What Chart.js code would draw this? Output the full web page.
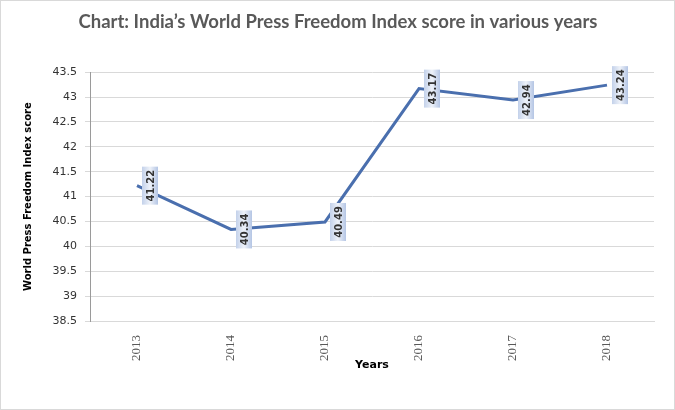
<!DOCTYPE html>
<html>
<head>
<meta charset="utf-8">
<script src="https://cdn.jsdelivr.net/npm/chart.js@4/dist/chart.umd.min.js"></script>
<style>
  html, body { margin: 0; padding: 0; background: #fff; }
</style>
</head>
<body>
<canvas id="chart" width="675" height="410"></canvas>
<script>
const years = ['2013', '2014', '2015', '2016', '2017', '2018'];
const scores = [41.22, 40.34, 40.49, 43.17, 42.94, 43.24];
const scoreLabels = ['41.22', '40.34', '40.49', '43.17', '42.94', '43.24'];

// white background + thin grey frame around the whole picture
const frame = {
    id: 'frame',
    beforeDraw(chart) {
        const ctx = chart.ctx;
        ctx.save();
        ctx.fillStyle = '#fff';
        ctx.fillRect(0, 0, chart.width, chart.height);
        ctx.strokeStyle = '#d9d9d9';
        ctx.lineWidth = 1;
        ctx.strokeRect(0.5, 0.5, chart.width - 1, chart.height - 1);
        ctx.restore();
    }
};

// rotated value labels in small blue boxes next to each point
const valueBoxes = {
    id: 'valueBoxes',
    afterDatasetsDraw(chart) {
        const ctx = chart.ctx;
        const meta = chart.getDatasetMeta(0);
        meta.data.forEach((pt, i) => {
            const cx = pt.x + 13, cy = pt.y;
            const w = 16, h = 38;
            const g = ctx.createLinearGradient(cx - w / 2, 0, cx + w / 2, 0);
            g.addColorStop(0, '#c3d1ea');
            g.addColorStop(0.5, '#eef2f9');
            g.addColorStop(1, '#b4c5e4');
            ctx.save();
            ctx.fillStyle = g;
            ctx.fillRect(cx - w / 2, cy - h / 2, w, h);
            ctx.translate(cx, cy);
            ctx.rotate(-Math.PI / 2);
            ctx.fillStyle = '#333';
            ctx.font = 'bold 10px "DejaVu Sans"';
            ctx.textAlign = 'center';
            ctx.textBaseline = 'middle';
            ctx.fillText(scoreLabels[i], 0, 1);
            ctx.restore();
        });
    }
};

new Chart(document.getElementById('chart'), {
    type: 'line',
    data: {
        labels: years,
        datasets: [{
            label: 'Score',
            data: scores,
            borderColor: '#4a6fae',
            borderWidth: 3,
            pointRadius: 0,
            tension: 0
        }]
    },
    options: {
        responsive: false,
        animation: false,
        layout: {
            padding: { left: 22, right: 21, top: 0, bottom: 34 }
        },
        plugins: {
            legend: { display: false },
            tooltip: { enabled: false },
            title: {
                display: true,
                text: 'Chart: India\u2019s World Press Freedom Index score in various years',
                color: '#595959',
                font: { family: 'Lato', size: 18.5, weight: 'bold' },
                padding: { top: 11, bottom: 39 }
            }
        },
        scales: {
            x: {
                offset: true,
                grid: { display: false },
                border: { color: '#d9d9d9' },
                ticks: {
                    minRotation: 90,
                    maxRotation: 90,
                    padding: 6,
                    color: '#595959',
                    font: { family: 'Liberation Serif', size: 13 }
                },
                title: {
                    display: true,
                    text: 'Years',
                    color: '#000',
                    font: { family: 'DejaVu Sans', size: 11, weight: 'bold' },
                    padding: { top: 4, bottom: 4 }
                },
                afterFit(scale) { scale.height = 55; }
            },
            y: {
                min: 38.5,
                max: 43.5,
                grid: { color: '#d9d9d9', tickLength: 5 },
                border: { color: '#9a9a9a' },
                ticks: {
                    stepSize: 0.5,
                    padding: 8,
                    color: '#333',
                    font: { family: 'DejaVu Sans', size: 11 },
                    callback: v => String(Math.round(v * 10) / 10)
                },
                title: {
                    display: true,
                    text: 'World Press Freedom Index score',
                    color: '#000',
                    font: { family: 'DejaVu Sans', size: 10, weight: 'bold' },
                    padding: { top: 0, bottom: 0 }
                },
                afterFit(scale) { scale.width = 68; }
            }
        }
    },
    plugins: [frame, valueBoxes]
});
</script>
</body>
</html>
